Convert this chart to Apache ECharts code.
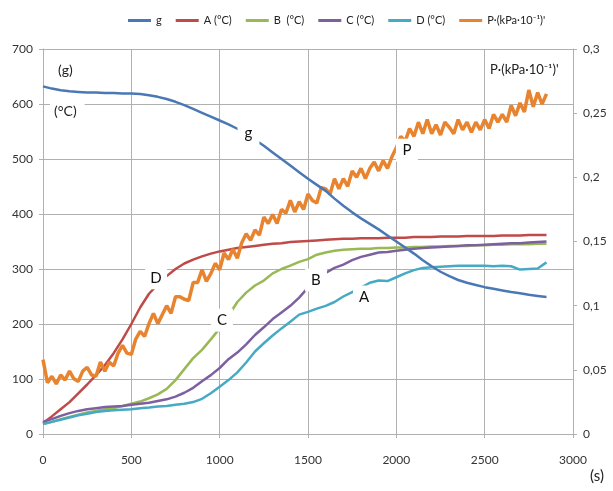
<!DOCTYPE html>
<html>
<head>
<meta charset="utf-8">
<script src="https://cdn.jsdelivr.net/npm/echarts@6/dist/echarts.min.js"></script>
<style>
  html, body { margin: 0; padding: 0; background: #fff; }
  #main { width: 613px; height: 491px; }
</style>
</head>
<body>
<div id="main"></div>
<script>
// 时间轴 (s)，温度/质量曲线每 50 s 一个点
var tCurve = [0, 50, 100, 150, 200, 250, 300, 350, 400, 450, 500, 550, 600, 650, 700, 750, 800, 850, 900, 950,
  1000, 1050, 1100, 1150, 1200, 1250, 1300, 1350, 1400, 1450, 1500, 1550, 1600, 1650, 1700, 1750, 1800, 1850, 1900, 1950,
  2000, 2050, 2100, 2150, 2200, 2250, 2300, 2350, 2400, 2450, 2500, 2550, 2600, 2650, 2700, 2750, 2800, 2850];

var gMass = [632, 628, 625, 623, 622, 621, 621, 620, 620, 619, 619, 618, 616, 613, 609, 604, 598, 591, 584, 577,
  570, 563, 555, 545, 535, 524, 512, 500, 488, 476, 464, 453, 442, 428, 415, 403, 392, 382, 372, 361,
  350, 339, 328, 316, 305, 295, 287, 280, 275, 271, 267, 264, 261, 258, 256, 253, 251, 249];

var tempA = [20, 32, 45, 58, 74, 90, 107, 125, 147, 172, 200, 230, 255, 272, 287, 300, 310, 317, 323, 328,
  332, 335, 338, 340, 342, 344, 346, 347, 349, 350, 351, 352, 353, 354, 355, 355, 356, 356, 356, 357,
  357, 357, 358, 358, 358, 359, 359, 359, 360, 360, 360, 360, 361, 361, 361, 362, 362, 362];

var tempB = [18, 22, 27, 31, 35, 39, 42, 45, 47, 51, 55, 59, 65, 72, 82, 98, 118, 138, 153, 172,
  192, 215, 240, 257, 270, 279, 292, 300, 306, 313, 318, 326, 330, 333, 335, 336, 337, 337, 338, 338,
  339, 339, 340, 340, 341, 341, 342, 342, 342, 343, 343, 344, 344, 345, 345, 345, 346, 346];

var tempC = [22, 27, 33, 38, 42, 45, 47, 49, 50, 51, 53, 55, 57, 60, 63, 68, 75, 84, 96, 107,
  120, 136, 148, 163, 180, 194, 209, 221, 233, 248, 266, 280, 293, 302, 308, 316, 322, 326, 330, 331,
  333, 335, 337, 338, 339, 340, 341, 342, 343, 343, 344, 345, 346, 347, 347, 348, 349, 350];

var tempD = [18, 22, 26, 30, 34, 37, 40, 42, 43, 44, 45, 47, 48, 50, 51, 53, 55, 58, 64, 74,
  86, 98, 112, 130, 150, 165, 179, 192, 204, 217, 222, 228, 233, 240, 250, 258, 266, 275, 279, 278,
  285, 292, 298, 302, 303, 304, 305, 306, 306, 306, 306, 305, 306, 305, 299, 300, 301, 312];

// 压力 P (kPa·10^-1)，每 25 s 一个点
var tPress = [0, 25, 50, 75, 100, 125, 150, 175, 200, 225, 250, 275, 300, 325, 350, 375, 400, 425, 450, 475,
  500, 525, 550, 575, 600, 625, 650, 675, 700, 725, 750, 775, 800, 825, 850, 875, 900, 925, 950, 975,
  1000, 1025, 1050, 1075, 1100, 1125, 1150, 1175, 1200, 1225, 1250, 1275, 1300, 1325, 1350, 1375, 1400, 1425, 1450, 1475,
  1500, 1525, 1550, 1575, 1600, 1625, 1650, 1675, 1700, 1725, 1750, 1775, 1800, 1825, 1850, 1875, 1900, 1925, 1950, 1975,
  2000, 2025, 2050, 2075, 2100, 2125, 2150, 2175, 2200, 2225, 2250, 2275, 2300, 2325, 2350, 2375, 2400, 2425, 2450, 2475,
  2500, 2525, 2550, 2575, 2600, 2625, 2650, 2675, 2700, 2725, 2750, 2775, 2800, 2825, 2850];

var pressP = [0.058, 0.040, 0.045, 0.039, 0.046, 0.042, 0.049, 0.043, 0.041, 0.049, 0.052, 0.046, 0.045, 0.056, 0.049, 0.056, 0.053, 0.063, 0.069, 0.063,
  0.062, 0.074, 0.080, 0.076, 0.086, 0.094, 0.086, 0.093, 0.100, 0.094, 0.107, 0.107, 0.105, 0.104, 0.118, 0.118, 0.128, 0.119, 0.125, 0.133,
  0.128, 0.141, 0.136, 0.144, 0.137, 0.149, 0.156, 0.151, 0.159, 0.155, 0.169, 0.164, 0.171, 0.164, 0.175, 0.172, 0.182, 0.173, 0.181, 0.175,
  0.187, 0.182, 0.180, 0.192, 0.191, 0.187, 0.199, 0.191, 0.199, 0.193, 0.205, 0.200, 0.207, 0.199, 0.207, 0.212, 0.205, 0.213, 0.207, 0.216,
  0.223, 0.232, 0.228, 0.238, 0.232, 0.243, 0.234, 0.245, 0.234, 0.241, 0.233, 0.243, 0.239, 0.234, 0.245, 0.237, 0.243, 0.235, 0.243, 0.237,
  0.245, 0.238, 0.249, 0.243, 0.249, 0.243, 0.256, 0.248, 0.258, 0.251, 0.268, 0.255, 0.266, 0.257, 0.265];

// 曲线上的标注字母 [t, 左轴值]
var noteText = ['g', 'P', 'D', 'C', 'B', 'A'];
var noteT = [1163, 2060, 640, 1013, 1545, 1817];
var noteY = [547, 516, 284, 207, 280, 249];

var legendNames = ['g', 'A (°C)', 'B  (°C)', 'C (°C)', 'D (°C)', 'P·(kPa·10⁻¹)\''];

function pairs(xs, ys) {
  return xs.map(function (x, i) { return [x, ys[i]]; });
}

var chart = echarts.init(document.getElementById('main'));
var FONT = 'Lato, "Liberation Sans", sans-serif';
var gridColor = '#b0b0b0';

var option = {
  backgroundColor: '#fff',
  textStyle: { fontFamily: FONT },
  legend: {
    data: legendNames,
    left: 123,
    top: 10,
    itemWidth: 23,
    itemHeight: 3,
    itemGap: 14,
    icon: 'rect',
    textStyle: { fontSize: 11, color: '#222', fontFamily: FONT }
  },
  grid: { left: 43, right: 40, top: 49, bottom: 57, outerBoundsMode: 'none' },
  xAxis: {
    type: 'value',
    min: 0, max: 3000, interval: 500,
    axisLine: { show: true, lineStyle: { color: gridColor } },
    axisTick: { show: true, length: 4, lineStyle: { color: gridColor } },
    axisLabel: { margin: 20, fontSize: 12, color: '#333', formatter: function (v) { return String(v); } },
    splitLine: { show: true, lineStyle: { color: gridColor } }
  },
  yAxis: [{
    type: 'value',
    min: 0, max: 700, interval: 100,
    axisLine: { show: true, lineStyle: { color: gridColor } },
    axisTick: { show: true, length: 4, lineStyle: { color: gridColor } },
    axisLabel: { margin: 10, fontSize: 12, color: '#333' },
    splitLine: { show: true, lineStyle: { color: gridColor } }
  }, {
    type: 'value',
    min: 0, max: 0.3, interval: 0.05,
    position: 'right',
    axisLine: { show: true, lineStyle: { color: gridColor } },
    axisTick: { show: true, length: 4, lineStyle: { color: gridColor } },
    axisLabel: {
      margin: 10, fontSize: 12, color: '#333',
      formatter: function (v) { return String(+v.toFixed(2)).replace('.', ','); }
    },
    splitLine: { show: false }
  }],
  series: [
    { name: legendNames[1], type: 'line', showSymbol: false, symbol: 'none', data: pairs(tCurve, tempA),
      lineStyle: { width: 2.5, color: '#be4b48' }, itemStyle: { color: '#be4b48' }, z: 2 },
    { name: legendNames[2], type: 'line', showSymbol: false, symbol: 'none', data: pairs(tCurve, tempB),
      lineStyle: { width: 2.5, color: '#98b954' }, itemStyle: { color: '#98b954' }, z: 2 },
    { name: legendNames[3], type: 'line', showSymbol: false, symbol: 'none', data: pairs(tCurve, tempC),
      lineStyle: { width: 2.5, color: '#7d60a0' }, itemStyle: { color: '#7d60a0' }, z: 2 },
    { name: legendNames[4], type: 'line', showSymbol: false, symbol: 'none', data: pairs(tCurve, tempD),
      lineStyle: { width: 2.5, color: '#46aac5' }, itemStyle: { color: '#46aac5' }, z: 2 },
    { name: legendNames[5], type: 'line', yAxisIndex: 1, showSymbol: false, symbol: 'none', data: pairs(tPress, pressP),
      lineStyle: { width: 3.5, color: '#e8842f' }, itemStyle: { color: '#e8842f' }, z: 3 },
    { name: legendNames[0], type: 'line', showSymbol: false, symbol: 'none', data: pairs(tCurve, gMass),
      lineStyle: { width: 2.5, color: '#4a78b5' }, itemStyle: { color: '#4a78b5' }, z: 4 },
    {
      name: 'notes', type: 'scatter', z: 10, silent: true,
      symbol: 'rect', symbolSize: [22, 23],
      itemStyle: { color: '#fff', opacity: 1 },
      label: { show: true, position: 'inside', formatter: '{b}', fontSize: 15, color: '#111', fontFamily: FONT },
      data: noteText.map(function (s, i) { return { name: s, value: [noteT[i], noteY[i]] }; })
    }
  ],
  graphic: [
    { type: 'text', left: 58, top: 63, z: 20,
      style: { text: '(g)', fontSize: 14, fill: '#222', fontFamily: FONT } },
    { type: 'text', left: 50, top: 104, z: 20,
      style: { text: '(°C)', fontSize: 14, fill: '#222', fontFamily: FONT, backgroundColor: '#fff', padding: [0, 8, 0, 4] } },
    { type: 'text', left: 490, top: 63, z: 20,
      style: { text: 'P·(kPa·10⁻¹)\'', fontSize: 13, fill: '#222', fontFamily: FONT } },
    { type: 'text', left: 590, top: 469, z: 20,
      style: { text: '(s)', fontSize: 15, fill: '#222', fontFamily: FONT } }
  ]
};

chart.setOption(option);
window.onresize = chart.resize;
</script>
</body>
</html>
